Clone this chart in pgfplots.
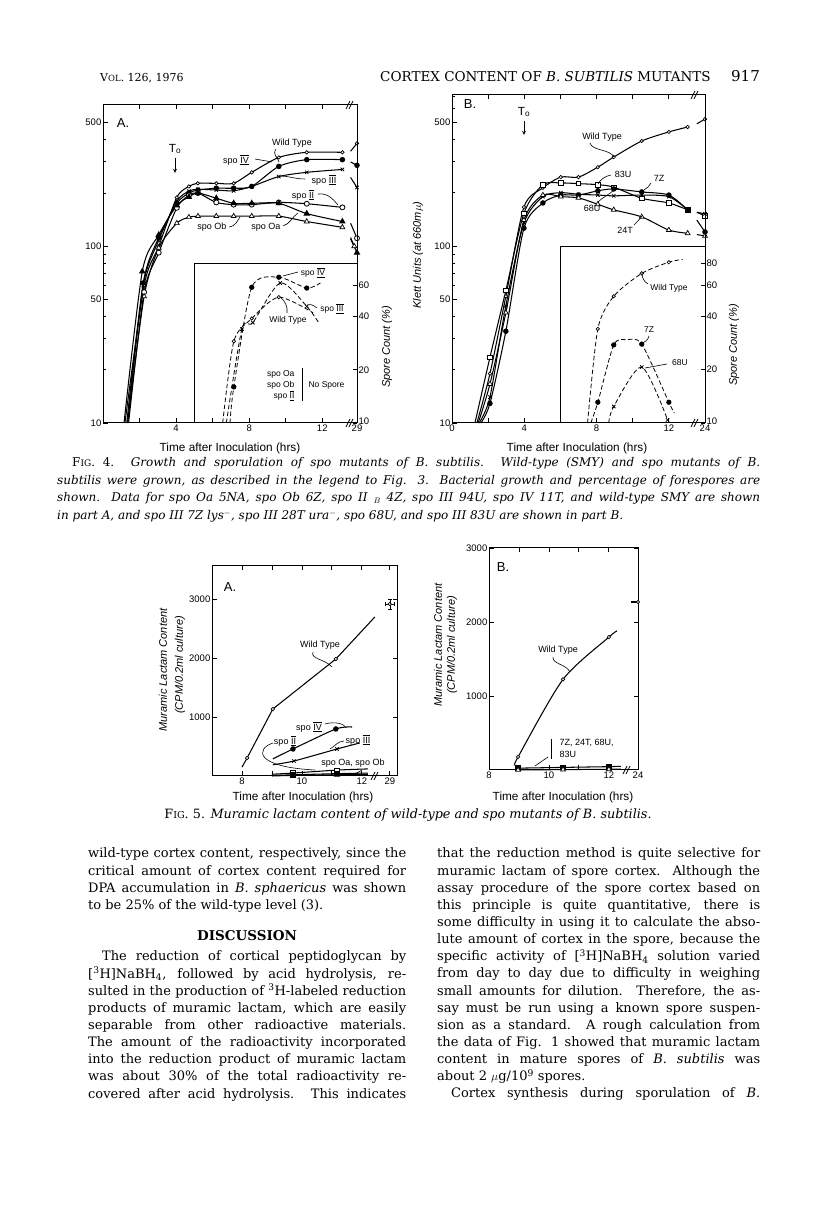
\documentclass[border=0pt]{standalone}
\usepackage{pgfplots}
\pgfplotsset{compat=1.18}
\usepackage{fontspec}
\setmainfont{DejaVu Serif}
\newfontfamily\cf{Liberation Sans}
\newcommand\rn[1]{\ensuremath{\overline{\underline{\mbox{#1}}}}}
\newcommand\chls{\cf\fontsize{9}{10}\selectfont}
\newcommand\chlsi{\cf\fontsize{8.5}{9.5}\selectfont}
\newcommand\chlab{\cf\fontsize{11.8}{13}\selectfont}
\newcommand\chlabi{\cf\itshape\fontsize{11}{12}\selectfont}
\newcommand\bodyf{\fontsize{13}{17}\selectfont}
\newcommand\captf{\itshape\fontsize{12}{14}\selectfont}
\pgfplotsset{
 fig/.style={scale only axis, anchor=south west, clip=false,
  axis line style={line width=1pt},
  every tick/.append style={line width=0.9pt, black},
  major tick length=4.5pt, minor tick length=2.5pt, tick align=inside,
  tick label style={font=\cf\fontsize{9.5}{10}\selectfont, inner sep=1.5pt}},
 mO/.style={mark=*, mark size=1.7pt, mark options={fill=white, solid, line width=0.7pt}},
 mOO/.style={mark=*, mark size=2.5pt, mark options={fill=white, solid, line width=0.8pt}},
 mF/.style={mark=*, mark size=2.2pt, mark options={fill=black, solid}},
 mX/.style={mark=x, mark size=2.4pt, mark options={solid, line width=0.8pt}},
 mT/.style={mark=triangle*, mark size=2.8pt, mark options={fill=black, solid}},
 mTo/.style={mark=triangle*, mark size=2.8pt, mark options={fill=white, solid, line width=0.7pt}},
 mS/.style={mark=square*, mark size=2.2pt, mark options={fill=white, solid, line width=0.7pt}},
 mSf/.style={mark=square*, mark size=2.2pt, mark options={fill=black, solid}},
 cv/.style={black, line width=1.05pt, smooth, tension=0.45},
 ln/.style={black, line width=1.05pt},
 dcv/.style={black, line width=0.8pt, smooth, tension=0.45, dash pattern=on 4.5pt off 2.5pt},
 mi/.style={mark indices={2,3,4,5,6,7,8,9,10,11,12,13}},
}
\begin{document}
\begin{tikzpicture}
\path[use as bounding box] (0pt,0pt) rectangle (816pt,1229pt);
\fill[white] (0pt,0pt) rectangle (816pt,1229pt);

% ---------------- Fig 4A
\begin{axis}[fig, at={(103pt,806pt)}, width=254pt, height=318pt, ymode=log,
  xmin=0, xmax=13.9, ymin=10, ymax=630,
  xtick={2,4,6,8,10,12,13.9}, xticklabels={,4,,8,,12,29},
  ytick={10,50,100,500}, yticklabels={10,50,100,500},
  minor ytick={20,30,40,60,70,80,90,200,300,400}, ytick pos=left]
\addplot[cv, mO, mi] coordinates {(1.2,10)(2.25,60)(3.05,100)(4.04,189)(4.7,218)(5.19,227)(6.2,227)(7.15,227)(8.14,262)(9.62,318)(11.15,340)(13.1,340)};
\addplot[cv, mF, mi] coordinates {(1.3,10)(2.2,62)(3.05,112)(4.04,175)(4.7,200)(5.2,208)(6.2,213)(7.15,213)(8.14,218)(9.62,283)(11.15,309)(13.1,309)};
\addplot[cv, mX, mi] coordinates {(1.35,10)(2.2,60)(3.05,108)(4.04,180)(4.7,205)(5.2,210)(6.2,208)(7.15,206)(8.14,218)(9.62,248)(11.15,262)(13.1,272)};
\addplot[cv, mOO, mi] coordinates {(1.4,10)(2.25,55)(3.05,92)(4.04,165)(4.7,194)(5.2,200)(6.2,177)(7.15,172)(8.14,172)(9.62,177)(11.15,174)(13.1,166)};
\addplot[cv, mT, mi] coordinates {(1.15,10)(2.15,72)(3.05,116)(4.04,170)(4.7,190)(5.2,200)(6.2,187)(7.15,175)(8.14,175)(9.62,175)(11.15,153)(13.1,138)};
\addplot[cv, mTo, mi] coordinates {(1.35,10)(2.25,52)(3.05,98)(4.04,135)(4.7,146)(5.2,148)(6.2,148)(7.15,148)(8.14,148)(9.62,148)(11.15,138)(13.1,128)};
\addplot[ln, mO, mark indices={2}] coordinates {(13.55,345)(13.9,382)};
\addplot[ln, mF, mark indices={2}] coordinates {(13.55,300)(13.9,287)};
\addplot[ln, mX, mark indices={2}] coordinates {(13.55,245)(13.9,215)};
\addplot[ln, mOO, mark indices={2}] coordinates {(13.55,135)(13.9,111)};
\addplot[ln, mT, mark indices={2}] coordinates {(13.55,110)(13.9,92)};
\addplot[ln, mTo, mark indices={2}] coordinates {(13.55,112)(13.75,100)};
\addplot[dcv, mF, mark indices={2,3,4,5}] coordinates {(6.95,10)(7.16,16)(8.14,58.6)(9.62,66.8)(11.15,58)(11.9,62)};
\addplot[dcv, mX, mark indices={2,3,4,5}] coordinates {(6.75,10)(7.6,34)(8.2,37)(9.7,62)(11.15,45.7)(11.8,37)};
\addplot[dcv, mO, mark indices={2,3,4}] coordinates {(6.55,10)(7.16,29)(8.14,39)(9.62,51.5)(11.5,42)};
\addplot[ln, line width=0.9pt] coordinates {(5.03,10)(5.03,80)(13.9,80)};
\end{axis}
\begin{axis}[fig, at={(103pt,806pt)}, width=254pt, height=318pt, ymode=log,
  xmin=0, xmax=13.9, ymin=10, ymax=630, axis y line*=right, axis x line=none,
  ytick={10,20,40,60}, yticklabels={\raisebox{4pt}{10},20,40,60}, yminorticks=false]
\end{axis}

% ---------------- Fig 4B
\begin{axis}[fig, at={(452pt,806pt)}, width=253pt, height=328pt, ymode=log,
  xmin=0, xmax=14, ymin=10, ymax=713,
  xtick={0,2,4,6,8,10,12,14}, xticklabels={0,,4,,8,,12,24},
  ytick={10,50,100,500}, yticklabels={10,50,100,500},
  minor ytick={20,30,40,60,70,80,90,200,300,400,600,700}, ytick pos=left]
\addplot[cv, mO, mi] coordinates {(1.38,10)(2.1,19)(2.98,52)(3.98,166)(5.03,213)(6.02,245)(7.0,245)(8.07,279)(8.95,318)(10.5,392)(12.0,441)(13.04,470)};
\addplot[cv, mS, mi] coordinates {(1.27,10)(2.1,23.5)(2.98,56)(3.98,153)(5.03,222)(6.02,227)(7.0,225)(8.07,222)(8.95,215)(10.5,186)(12.0,175)(13.04,160)};
\addplot[cv, mF, mi] coordinates {(1.6,10)(2.1,12.9)(2.98,33)(3.98,126)(5.03,175)(6.02,194)(7.0,194)(8.07,205)(8.95,210)(10.5,202)(12.0,194)(13.04,160)};
\addplot[cv, mX, mi] coordinates {(1.5,10)(2.1,14)(2.98,46)(3.98,135)(5.03,190)(6.02,200)(7.0,196)(8.07,194)(8.95,192)(10.5,194)(12.0,190)(13.04,160)};
\addplot[cv, mTo, mi] coordinates {(1.45,10)(2.1,16.6)(2.98,42)(3.98,140)(5.03,194)(6.02,190)(7.0,187)(8.07,172)(8.95,160)(10.5,146)(12.0,123)(13.04,118)};
\addplot[ln, mO, mark indices={2}] coordinates {(13.55,490)(14,521)};
\addplot[ln, mS, mark indices={2}] coordinates {(13.55,155)(14,148)};
\addplot[ln, mF, mark indices={2}] coordinates {(13.55,140)(14,120)};
\addplot[ln, mX, mark indices={2}] coordinates {(13.55,155)(14,152)};
\addplot[ln, mTo, mark indices={2}] coordinates {(13.55,116)(14,114)};
\addplot[dcv, mO, mark indices={2,3,4,5}] coordinates {(7.5,10)(8.07,34)(8.95,52)(10.5,70)(12.0,81)(12.76,84)};
\addplot[dcv, mF, mark indices={2,3,5,6}] coordinates {(7.68,10)(8.07,13.1)(8.95,27.6)(9.67,29.5)(10.5,27.9)(12.0,13.1)(12.3,11.4)};
\addplot[dcv, mX, mark indices={2,3,4}] coordinates {(8.67,10)(8.95,12.4)(10.5,20.7)(11.93,10.4)};
\addplot[ln, line width=0.9pt] coordinates {(6,10)(6,100)(14,100)};
\end{axis}
\begin{axis}[fig, at={(452pt,806pt)}, width=253pt, height=328pt, ymode=log,
  xmin=0, xmax=14, ymin=10, ymax=713, axis y line*=right, axis x line=none,
  ytick={10,20,40,60,80}, yticklabels={\raisebox{4pt}{10},20,40,60,80}, yminorticks=false]
\end{axis}

% ---------------- Fig 5A
\begin{axis}[fig, at={(212pt,453pt)}, width=185pt, height=210pt,
  xmin=7, xmax=13.17, ymin=0, ymax=3560, scaled y ticks=false,
  xtick={8,9,10,11,12,12.93}, xticklabels={8,,10,,12,29},
  ytick={1000,2000,3000}, yticklabels={1000,2000,3000}]
\addplot[ln, mO, mark indices={2,3,4}] coordinates {(8.0,150)(8.17,305)(9.03,1136)(11.13,1983)(12.43,2695)};
\addplot[ln, mO, error bars/.cd, y dir=both, y explicit, x dir=both, x explicit] coordinates {(12.93,2915) +- (0.15,90)};
\addplot[cv, mF, mark indices={2,3}] coordinates {(9.03,290)(9.7,458)(11.13,797)(11.67,830)};
\addplot[cv, mX, mark indices={2,3}] coordinates {(9.03,190)(9.73,254)(11.17,458)(11.93,560)};
\addplot[cv, mS, mark indices={2,3}] coordinates {(9.0,30)(9.7,50)(11.17,100)(12.2,120)};
\addplot[cv, mSf, mark indices={2,3}] coordinates {(9.0,10)(9.7,20)(11.17,40)(12.2,50)};
\addplot[cv, mT, mark indices={2,3}] coordinates {(9.0,0)(9.7,10)(11.17,20)(12.2,30)};
\end{axis}

% ---------------- Fig 5B
\begin{axis}[fig, at={(489pt,459pt)}, width=149pt, height=222pt,
  xmin=8, xmax=12.97, ymin=0, ymax=3000, scaled y ticks=false,
  xtick={8,9,10,11,12,12.97}, xticklabels={8,,10,,12,24},
  ytick={1000,2000,3000}, yticklabels={1000,2000,3000}]
\addplot[cv, mO, mark indices={2,3,4}] coordinates {(8.87,68)(8.97,177)(10.47,1225)(12.0,1796)(12.27,1880)};
\addplot[ln, mO, mark indices={2}] coordinates {(12.75,2270)(12.97,2270)};
\addplot[ln, mSf, mark indices={1,2,3}] coordinates {(8.97,25)(10.47,35)(12.0,45)(12.4,50)};
\addplot[ln, mTo, mark indices={1,2,3}] coordinates {(8.97,0)(10.47,5)(12.0,10)(12.4,12)};
\end{axis}

\begin{scope}[x=1pt,y=1pt]
\foreach \bx/\by in {350/806,350/1124,695/806,695/1134,375/453,627/459}{
  \draw[line width=0.8pt] (\bx-4,\by-4) -- ++(4,8);
  \draw[line width=0.8pt] (\bx-1,\by-4) -- ++(4,8);
}
% ---------------- Header
\node[anchor=base west, inner sep=0] at (100,1147) {\fontsize{11}{11}\selectfont V{\fontsize{8.5}{8.5}\selectfont OL}. 126, 1976};
\node[anchor=base west, inner sep=0] at (380,1147) {\fontsize{13.5}{13.5}\selectfont CORTEX CONTENT OF \textit{B. SUBTILIS} MUTANTS};
\node[anchor=base east, inner sep=0] at (760,1147) {\fontsize{15}{15}\selectfont 917};

% labels fig 4
\node[font=\cf\fontsize{13}{13}\selectfont] at (123,1106) {A.};
\node[font=\chlab] at (175,1080) {T\textsubscript{o}};
\draw[->, line width=0.9pt, >=stealth] (175,1071) -- (175,1056);
\node[font=\chls] at (292,1086) {Wild Type};
\draw[line width=0.6pt] (276,1080) .. controls (272,1074) and (278,1072) .. (279,1067);
\node[font=\chls] at (236,1069) {spo \rn{IV}};
\draw[line width=0.6pt] (255,1070) -- (272,1067);
\node[font=\chls] at (324,1049) {spo \rn{III}};
\draw[line width=0.6pt] (305,1050) .. controls (295,1050) and (288,1053) .. (281,1053);
\node[font=\chls] at (303,1034) {spo \rn{II}};
\draw[line width=0.6pt] (318,1035) .. controls (328,1036) and (333,1030) .. (338,1024);
\node[font=\chls] at (212,1002) {spo Ob};
\draw[line width=0.6pt] (229,1002) .. controls (236,1003) and (237,1008) .. (240,1012);
\node[font=\chls] at (266,1002) {spo Oa};
\draw[line width=0.6pt] (283,1003) .. controls (290,1005) and (292,1012) .. (298,1016);
\node[font=\chlsi] at (313,956) {spo \rn{IV}};
\draw[line width=0.6pt] (298,957) -- (283,953);
\node[font=\chlsi] at (332,920) {spo \rn{III}};
\draw[line width=0.6pt] (317,921) .. controls (312,925) and (309,925) .. (307,924);
\node[font=\chlsi] at (288,909) {Wild Type};
\draw[line width=0.6pt] (287,916) .. controls (288,922) and (285,928) .. (281,931);
\node[font=\chlsi, anchor=east] at (298,855) {spo Oa};
\node[font=\chlsi, anchor=east] at (298,844) {spo Ob};
\node[font=\chlsi, anchor=east] at (298,833) {spo \rn{II}};
\draw[line width=0.6pt] (302,861) -- (302,828);
\node[font=\chlsi, anchor=west] at (305,844) {No Spore};
\node[font=\cf\fontsize{13}{13}\selectfont] at (470,1125) {B.};
\node[font=\chlab] at (524,1117) {T\textsubscript{o}};
\draw[->, line width=0.9pt, >=stealth] (524,1108) -- (524,1094);
\node[font=\chls] at (602,1092) {Wild Type};
\draw[line width=0.6pt] (590,1086) .. controls (592,1078) and (610,1080) .. (614,1072);
\node[font=\chls] at (623,1055) {83U};
\draw[line width=0.6pt] (611,1054) .. controls (605,1053) and (600,1049) .. (598,1045);
\node[font=\chls] at (659,1051) {7Z};
\draw[line width=0.6pt] (651,1046) .. controls (650,1043) and (647,1041) .. (644,1039);
\node[font=\chls] at (592,1021) {68U};
\draw[line width=0.6pt] (598,1027) .. controls (603,1032) and (610,1035) .. (614,1039);
\node[font=\chls] at (625,999) {24T};
\draw[line width=0.6pt] (634,1004) .. controls (638,1008) and (640,1010) .. (642,1013);
\node[font=\chlsi] at (669,941) {Wild Type};
\draw[line width=0.6pt] (648,945) .. controls (643,948) and (642,952) .. (642,956);
\node[font=\chlsi] at (649,899) {7Z};
\draw[line width=0.6pt] (649,893) .. controls (648,889) and (645,887) .. (643,886);
\node[font=\chlsi] at (680,866) {68U};
\draw[line width=0.6pt] (667,865) -- (645,861);
\node[font=\chlab] at (230,781) {Time after Inoculation (hrs)};
\node[font=\chlab] at (577,781) {Time after Inoculation (hrs)};
\node[font=\chlabi, rotate=90] at (418,974) {Klett Units (at 660m$\mu$)};
\node[font=\chlabi, rotate=90] at (387,882) {Spore Count (\%)};
\node[font=\chlabi, rotate=90] at (734,884) {Spore Count (\%)};

% ---------------- Fig 4 caption
\node[anchor=base west, inner sep=0] at (72,762) {\captf\makebox[688pt][s]{{\upshape F{\fontsize{9}{9}\selectfont IG}. 4.} Growth and sporulation of spo mutants of B. subtilis. Wild-type (SMY) and spo mutants of B.}};
\node[anchor=base west, inner sep=0] at (57,744.5) {\captf\makebox[703pt][s]{subtilis were grown, as described in the legend to Fig. 3. Bacterial growth and percentage of forespores are}};
\node[anchor=base west, inner sep=0] at (57,727) {\captf\makebox[703pt][s]{shown. Data for spo Oa 5NA, spo Ob 6Z, spo II $_{B}$ 4Z, spo III 94U, spo IV 11T, and wild-type SMY are shown}};
\node[anchor=base west, inner sep=0] at (57,709.5) {\captf in part A, and spo III 7Z lys$^{-}$, spo III 28T ura$^{-}$, spo 68U, and spo III 83U are shown in part B.};

% labels fig 5
\node[font=\cf\fontsize{13}{13}\selectfont] at (230,642) {A.};
\node[font=\chls] at (320,584) {Wild Type};
\draw[line width=0.6pt] (313,577) .. controls (310,570) and (325,570) .. (332,562);
\node[font=\chls] at (309,502) {spo \rn{IV}};
\draw[line width=0.6pt] (325,505) .. controls (335,508) and (345,505) .. (346,501);
\node[font=\chls] at (285,488) {spo \rn{II}};
\draw[line width=0.6pt] (273,486) .. controls (255,480) and (255,462) .. (315,459);
\node[font=\chls] at (358,489) {spo \rn{III}};
\draw[line width=0.6pt] (344,488) .. controls (338,488) and (334,482) .. (330,480);
\node[font=\chls] at (353,466) {spo Oa, spo Ob};
\draw[line width=0.6pt] (362,459) -- (357,456);
\node[font=\chlabi, rotate=90] at (163,559) {Muramic Lactam Content};
\node[font=\chlabi, rotate=90] at (180,564) {(CPM/0.2ml culture)};
\node[font=\chlab] at (303,432) {Time after Inoculation (hrs)};
\node[font=\cf\fontsize{13}{13}\selectfont] at (503,662) {B.};
\node[font=\chls] at (558,579) {Wild Type};
\draw[line width=0.6pt] (553,572) .. controls (552,565) and (566,565) .. (570,557);
\node[font=\chls, anchor=west] at (556,486) {7Z, 24T, 68U,};
\node[font=\chls, anchor=west] at (556,475) {83U};
\draw[line width=0.6pt] (551,490) -- (551,470);
\draw[line width=0.6pt] (548,472) -- (535,463);
\node[font=\chlabi, rotate=90] at (438,584) {Muramic Lactam Content};
\node[font=\chlabi, rotate=90] at (452,584) {(CPM/0.2ml culture)};
\node[font=\chlab] at (563,432) {Time after Inoculation (hrs)};

% ---------------- Fig 5 caption
\node[anchor=base, inner sep=0] at (408,410) {\itshape\fontsize{12.8}{14}\selectfont{\upshape F{\fontsize{9.6}{9.6}\selectfont IG}. 5.} Muramic lactam content of wild-type and spo mutants of B. subtilis.};

% ---------------- Body text
\begin{scope}[every node/.style={anchor=base west, inner sep=0, font=\bodyf}]
\node at (88,371) {\makebox[318pt][s]{wild-type cortex content, respectively, since the}};
\node at (88,353.86) {\makebox[318pt][s]{critical amount of cortex content required for}};
\node at (88,336.72) {\makebox[318pt][s]{DPA accumulation in \textit{B. sphaericus} was shown}};
\node at (88,319.58) {to be 25\% of the wild-type level (3).};
\node[anchor=base] at (247,288) {\fontsize{13.5}{17}\selectfont\textbf{DISCUSSION}};
\node at (88,268) {\makebox[318pt][s]{\hspace*{14pt}The reduction of cortical peptidoglycan by}};
\node at (88,250.86) {\makebox[318pt][s]{[\textsuperscript{3}H]NaBH\textsubscript{4}, followed by acid hydrolysis, re-}};
\node at (88,233.72) {\makebox[318pt][s]{sulted in the production of \textsuperscript{3}H-labeled reduction}};
\node at (88,216.58) {\makebox[318pt][s]{products of muramic lactam, which are easily}};
\node at (88,199.44) {\makebox[318pt][s]{separable from other radioactive materials.}};
\node at (88,182.3) {\makebox[318pt][s]{The amount of the radioactivity incorporated}};
\node at (88,165.16) {\makebox[318pt][s]{into the reduction product of muramic lactam}};
\node at (88,148.02) {\makebox[318pt][s]{was about 30\% of the total radioactivity re-}};
\node at (88,130.88) {\makebox[318pt][s]{covered after acid hydrolysis. This indicates}};
\node at (437,371) {\makebox[323pt][s]{that the reduction method is quite selective for}};
\node at (437,353.86) {\makebox[323pt][s]{muramic lactam of spore cortex. Although the}};
\node at (437,336.72) {\makebox[323pt][s]{assay procedure of the spore cortex based on}};
\node at (437,319.58) {\makebox[323pt][s]{this principle is quite quantitative, there is}};
\node at (437,302.44) {\makebox[323pt][s]{some difficulty in using it to calculate the abso-}};
\node at (437,285.3) {\makebox[323pt][s]{lute amount of cortex in the spore, because the}};
\node at (437,268.16) {\makebox[323pt][s]{specific activity of [\textsuperscript{3}H]NaBH\textsubscript{4} solution varied}};
\node at (437,251.02) {\makebox[323pt][s]{from day to day due to difficulty in weighing}};
\node at (437,233.88) {\makebox[323pt][s]{small amounts for dilution. Therefore, the as-}};
\node at (437,216.74) {\makebox[323pt][s]{say must be run using a known spore suspen-}};
\node at (437,199.6) {\makebox[323pt][s]{sion as a standard. A rough calculation from}};
\node at (437,182.46) {\makebox[323pt][s]{the data of Fig. 1 showed that muramic lactam}};
\node at (437,165.32) {\makebox[323pt][s]{content in mature spores of \textit{B. subtilis} was}};
\node at (437,148.18) {about 2 $\mu$g/10\textsuperscript{9} spores.};
\node at (437,131.04) {\makebox[323pt][s]{\hspace*{14pt}Cortex synthesis during sporulation of \textit{B.}}};
\end{scope}
\end{scope}
\end{tikzpicture}
\end{document}
